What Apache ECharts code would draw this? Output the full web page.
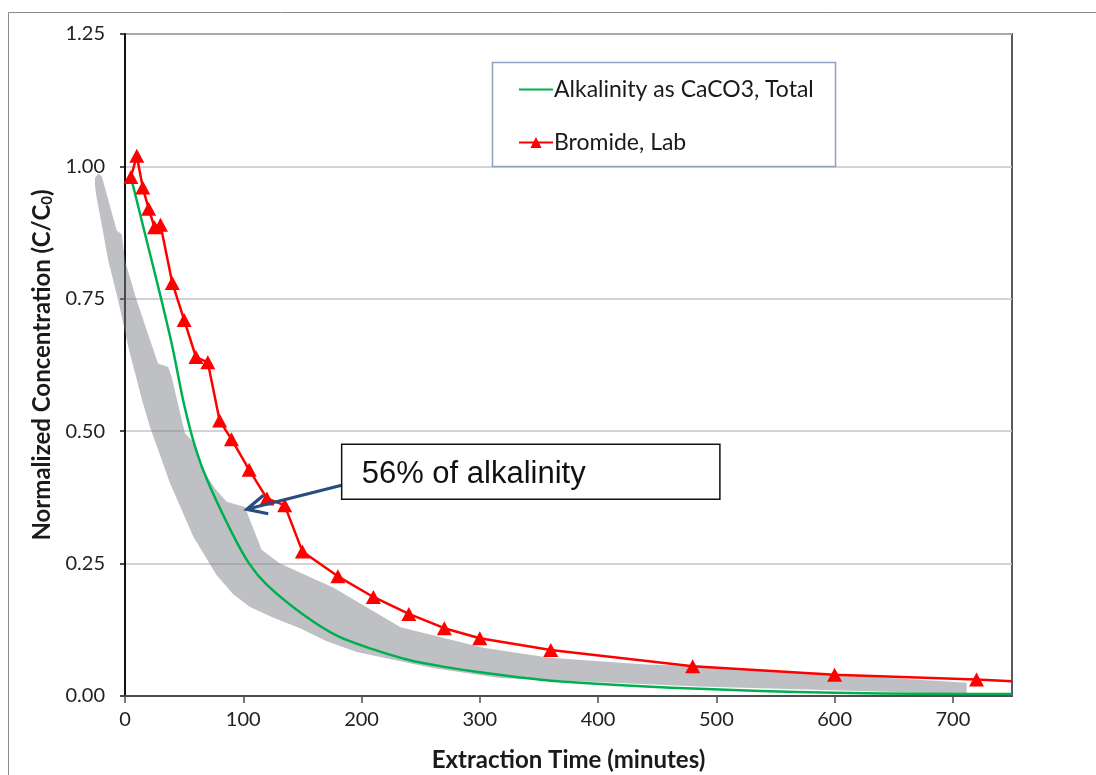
<!DOCTYPE html>
<html>
<head>
<meta charset="utf-8">
<script src="https://cdn.jsdelivr.net/npm/echarts@6/dist/echarts.min.js"></script>
<style>
  html, body { margin: 0; padding: 0; background: #fff; }
  #chart { width: 1096px; height: 775px; }
</style>
</head>
<body>
<div id="chart"></div>
<script>
// extraction time (minutes) and normalized concentration C/C0
const bromideTime = [5, 10, 15, 20, 25, 30, 40, 50, 60, 70, 80, 90, 105, 120, 135, 150, 180, 210, 240, 270, 300, 360, 480, 600, 720, 750];
const bromideConc = [0.98, 1.02, 0.96, 0.92, 0.885, 0.89, 0.78, 0.71, 0.64, 0.63, 0.52, 0.485, 0.427, 0.373, 0.36, 0.273, 0.226, 0.187, 0.155, 0.128, 0.109, 0.087, 0.056, 0.04, 0.031, 0.028];

const alkTime = [5, 20, 30, 40, 50, 60, 70, 90, 105, 120, 150, 180, 210, 240, 270, 300, 360, 480, 600, 720, 750];
const alkConc = [0.98, 0.845, 0.755, 0.66, 0.55, 0.465, 0.405, 0.31, 0.25, 0.21, 0.155, 0.113, 0.088, 0.068, 0.055, 0.045, 0.029, 0.014, 0.006, 0.004, 0.004];

// grey envelope, upper and lower edges
const bandUpper = [[-25.4, 0.978], [-22.8, 0.986], [-19.7, 0.982], [-7, 0.879], [-2.8, 0.872], [0, 0.822], [9.9, 0.747], [27.9, 0.628], [36.6, 0.621], [39.5, 0.602], [50.7, 0.496], [56.4, 0.483], [66.2, 0.4265], [76.1, 0.392], [86, 0.367], [101.4, 0.357], [115.5, 0.276], [131, 0.25], [176, 0.205], [233, 0.13], [303, 0.091], [359, 0.072], [444, 0.059], [486, 0.056], [711.7, 0.025], [711.7, 0.004]];
const bandLower = [[-25.4, 0.965], [-24.5, 0.948], [-14.1, 0.822], [-5.7, 0.747], [2.8, 0.659], [14.4, 0.559], [21.1, 0.508], [38, 0.402], [57.7, 0.301], [77.5, 0.228], [91.5, 0.192], [105.7, 0.168], [125, 0.148], [148, 0.128], [170, 0.104], [196, 0.083], [260, 0.053], [317, 0.034], [486, 0.018], [711.7, 0.004]];

const xTicks = [0, 100, 200, 300, 400, 500, 600, 700];
const yTicks = [0, 0.25, 0.5, 0.75, 1.0, 1.25];

// callout: arrow tip, arrow tail, box corners
const noteText = '56% of alkalinity';
const noteTip = [102.9, 0.3525];
const noteTail = [183.2, 0.398];
const noteBox = [[183.2, 0.4755], [503, 0.3713]];

const chart = echarts.init(document.getElementById('chart'));

const bandOutline = bandUpper.concat(bandLower.slice().reverse());
const bromideData = bromideTime.map((t, i) => {
  if (t === 750) return { value: [t, bromideConc[i]], symbol: 'none' };
  return [t, bromideConc[i]];
});

chart.setOption({
  animation: false,
  grid: {
    left: 125, right: 84, top: 34, bottom: 79,
    outerBoundsMode: 'none',
    show: true, borderColor: '#5a5a5a', borderWidth: 2, backgroundColor: 'transparent'
  },
  legend: {
    left: 513, top: 73, orient: 'vertical',
    itemWidth: 34, itemHeight: 14, itemGap: 30,
    textStyle: { fontFamily: 'Lato', fontSize: 23, color: '#1a1a1a', padding: [0, 0, 0, -4] },
    data: [
      { name: 'Alkalinity as CaCO3, Total', itemStyle: { opacity: 0 } },
      { name: 'Bromide, Lab' }
    ]
  },
  xAxis: {
    type: 'value', min: 0, max: 750, interval: 100,
    name: 'Extraction Time (minutes)', nameLocation: 'middle', nameGap: 52,
    nameTextStyle: { fontFamily: 'Lato', fontWeight: 'bold', fontSize: 24, color: '#1a1a1a' },
    axisLine: { lineStyle: { color: '#4d4d4d', width: 2 } },
    axisTick: { show: true, length: 7, lineStyle: { color: '#4d4d4d', width: 1.5 } },
    axisLabel: {
      showMaxLabel: false, margin: 14, fontFamily: 'Lato', fontSize: 20, color: '#222',
      formatter: (v) => xTicks.includes(v) ? String(v) : ''
    },
    splitLine: { show: false }
  },
  yAxis: {
    type: 'value', min: 0, max: 1.25, interval: 0.25,
    name: 'Normalized Concentration (C/C{sub|0})', nameLocation: 'middle', nameGap: 61,
    nameTextStyle: {
      fontFamily: 'Lato', fontWeight: 'bold', fontSize: 24, color: '#1a1a1a',
      rich: { sub: { fontFamily: 'Lato', fontWeight: 'bold', fontSize: 15, color: '#1a1a1a', verticalAlign: 'bottom', padding: [9, 0, 0, 0] } }
    },
    axisLine: { show: true, lineStyle: { color: '#111', width: 2 } },
    axisTick: { show: true, length: 5, lineStyle: { color: '#111', width: 1.5 } },
    axisLabel: {
      margin: 20, fontFamily: 'Lato', fontSize: 20, color: '#222',
      formatter: (v) => yTicks.includes(v) ? v.toFixed(2) : ''
    },
    splitLine: { show: true, lineStyle: { color: '#c4c4c4', width: 1.5 } }
  },
  series: [
    {
      name: 'band',
      type: 'custom',
      clip: false,
      z: 1,
      silent: true,
      data: bandOutline,
      renderItem: (params, api) => {
        if (params.dataIndex !== 0) return null;
        return {
          type: 'polygon',
          shape: { points: bandOutline.map((p) => api.coord(p)) },
          style: { fill: 'rgba(125,129,138,0.5)' }
        };
      }
    },
    {
      name: 'Alkalinity as CaCO3, Total',
      type: 'line',
      z: 3,
      smooth: 0.3,
      symbol: 'none',
      lineStyle: { color: '#00b050', width: 2.5 },
      itemStyle: { color: '#00b050' },
      data: alkTime.map((t, i) => [t, alkConc[i]])
    },
    {
      name: 'Bromide, Lab',
      type: 'line',
      z: 4,
      symbol: 'triangle',
      symbolSize: [15, 14],
      lineStyle: { color: '#ff0000', width: 2.5 },
      itemStyle: { color: '#ff0000' },
      data: bromideData
    }
  ]
});

function drawExtras() {
  const px = (p) => chart.convertToPixel({ gridIndex: 0 }, p);
  const tip = px(noteTip);
  const tail = px(noteTail);
  const b0 = px(noteBox[0]);
  const b1 = px(noteBox[1]);
  const ang = Math.atan2(tail[1] - tip[1], tail[0] - tip[0]);
  const headLen = 22, spread = 0.45;
  const w1 = [tip[0] + headLen * Math.cos(ang + spread), tip[1] + headLen * Math.sin(ang + spread)];
  const w2 = [tip[0] + headLen * Math.cos(ang - spread), tip[1] + headLen * Math.sin(ang - spread)];
  chart.setOption({
    graphic: [
      { type: 'rect', silent: true, shape: { x: 8.5, y: 12.5, width: 1200, height: 800 }, style: { fill: 'none', stroke: '#8c8c8c', lineWidth: 1 }, z: 0 },
      { type: 'rect', silent: true, shape: { x: 492.5, y: 62.5, width: 343, height: 104 }, style: { fill: 'none', stroke: '#8ea3c2', lineWidth: 1.5 }, z: 5 },
      { type: 'line', silent: true, shape: { x1: tail[0], y1: tail[1], x2: tip[0], y2: tip[1] }, style: { stroke: '#284c7e', lineWidth: 3.2 }, z: 10 },
      { type: 'polyline', silent: true, shape: { points: [w1, tip, w2] }, style: { stroke: '#284c7e', lineWidth: 3.2, fill: 'none', lineJoin: 'miter' }, z: 10 },
      {
        type: 'rect', silent: true,
        shape: { x: b0[0], y: b0[1], width: b1[0] - b0[0], height: b1[1] - b0[1] },
        style: { fill: '#fff', stroke: '#111', lineWidth: 1.5 }, z: 11
      },
      {
        type: 'text', silent: true, z: 12,
        x: b0[0] + 20, y: (b0[1] + b1[1]) / 2 + 3,
        style: { text: noteText, fontFamily: 'Liberation Sans', fontSize: 31, fill: '#111', verticalAlign: 'middle' }
      }
    ]
  });
}
drawExtras();
</script>
</body>
</html>
